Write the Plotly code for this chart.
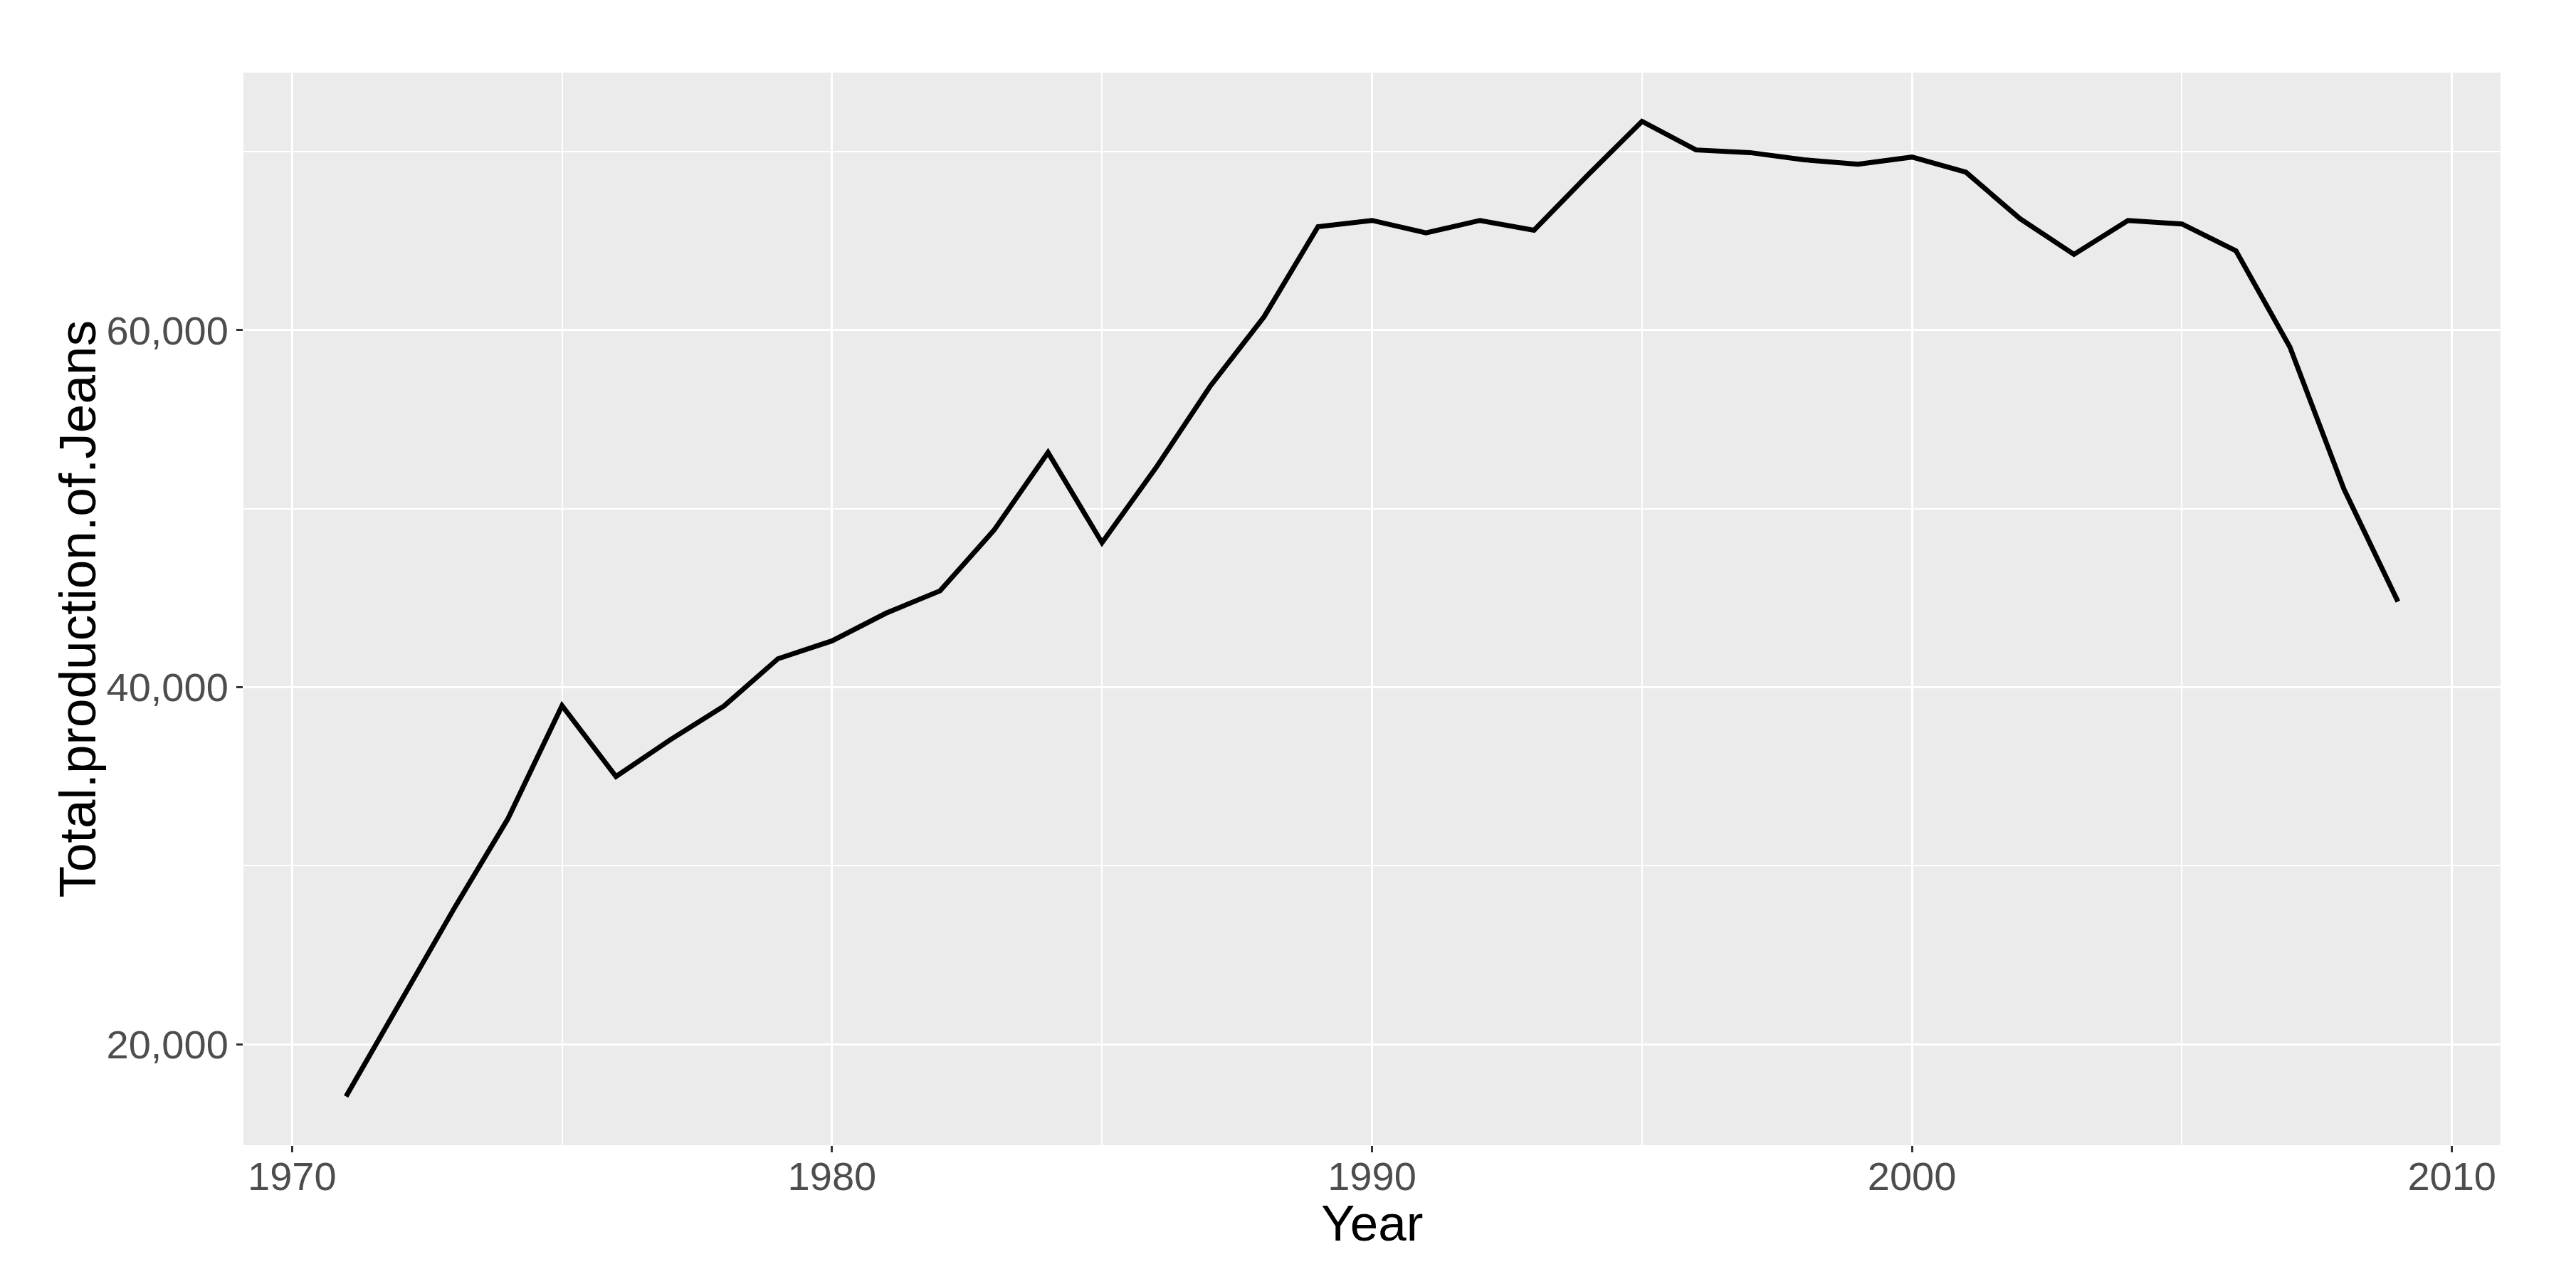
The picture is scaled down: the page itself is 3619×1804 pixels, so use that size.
import plotly.graph_objects as go

# ---- data ----
years = list(range(1971, 2010))
production = [
    17080, 22300, 27600, 32650, 38970,   # 1971-1975
    35000, 37050, 38950, 41600, 42600,   # 1976-1980
    44150, 45400, 48800, 53150, 48100,   # 1981-1985
    52300, 56850, 60750, 65800, 66150,   # 1986-1990
    65450, 66150, 65600, 68700, 71700,   # 1991-1995
    70100, 69950, 69550, 69300, 69700,   # 1996-2000
    68850, 66250, 64250, 66150, 65950,   # 2001-2005
    64450, 59050, 51100, 44800,          # 2006-2009
]
x_title = "Year"
y_title = "Total.production.of.Jeans"

# ggplot-like 5% expansion
xspan = max(years) - min(years)
xrange = [min(years) - 0.05 * xspan, max(years) + 0.05 * xspan]
yspan = max(production) - min(production)
yrange = [min(production) - 0.05 * yspan, max(production) + 0.05 * yspan]

# page body has an 8px margin; size the figure so the panel lands where the reference has it
OFF = 8
W, H = 3619 - OFF, 1804 - OFF
ML, MR, MT, MB = 342 - OFF, 106, 102 - OFF, 195
plot_w = W - ML - MR
plot_h = H - MT - MB

FONT = "Liberation Sans, Arial, sans-serif"

fig = go.Figure()
fig.add_trace(go.Scatter(
    x=years, y=production, mode="lines",
    line=dict(color="black", width=7),
    showlegend=False, hoverinfo="skip",
))

axis_common = dict(
    showgrid=True, gridcolor="white", gridwidth=3,
    zeroline=False, showline=False,
    ticks="outside", ticklen=9, tickwidth=3, tickcolor="#333333",
    tickfont=dict(family=FONT, size=56, color="#4D4D4D"),
    automargin=False,
)

fig.update_layout(
    width=W, height=H,
    margin=dict(l=ML, r=MR, t=MT, b=MB, autoexpand=False),
    paper_bgcolor="white", plot_bgcolor="#EBEBEB",
    xaxis=dict(
        range=xrange, tick0=1970, dtick=10,
        ticklabelstandoff=-14,
        minor=dict(dtick=5, tick0=1970, showgrid=True, gridcolor="white",
                   gridwidth=1.5, ticks=""),
        **axis_common,
    ),
    yaxis=dict(
        range=yrange, tick0=0, dtick=20000, tickformat=",d",
        minor=dict(dtick=10000, tick0=0, showgrid=True, gridcolor="white",
                   gridwidth=1.5, ticks=""),
        **axis_common,
    ),
    annotations=[
        dict(text=x_title, xref="paper", yref="paper",
             x=0.5, y=-(1718 - 1609) / plot_h,
             xanchor="center", yanchor="middle", showarrow=False,
             font=dict(family=FONT, size=71, color="black")),
        dict(text=y_title, xref="paper", yref="paper",
             x=(108 - 342) / plot_w, y=0.5, textangle=-90,
             xanchor="center", yanchor="middle", showarrow=False,
             font=dict(family=FONT, size=73, color="black")),
    ],
)

fig.write_html("out.html")
